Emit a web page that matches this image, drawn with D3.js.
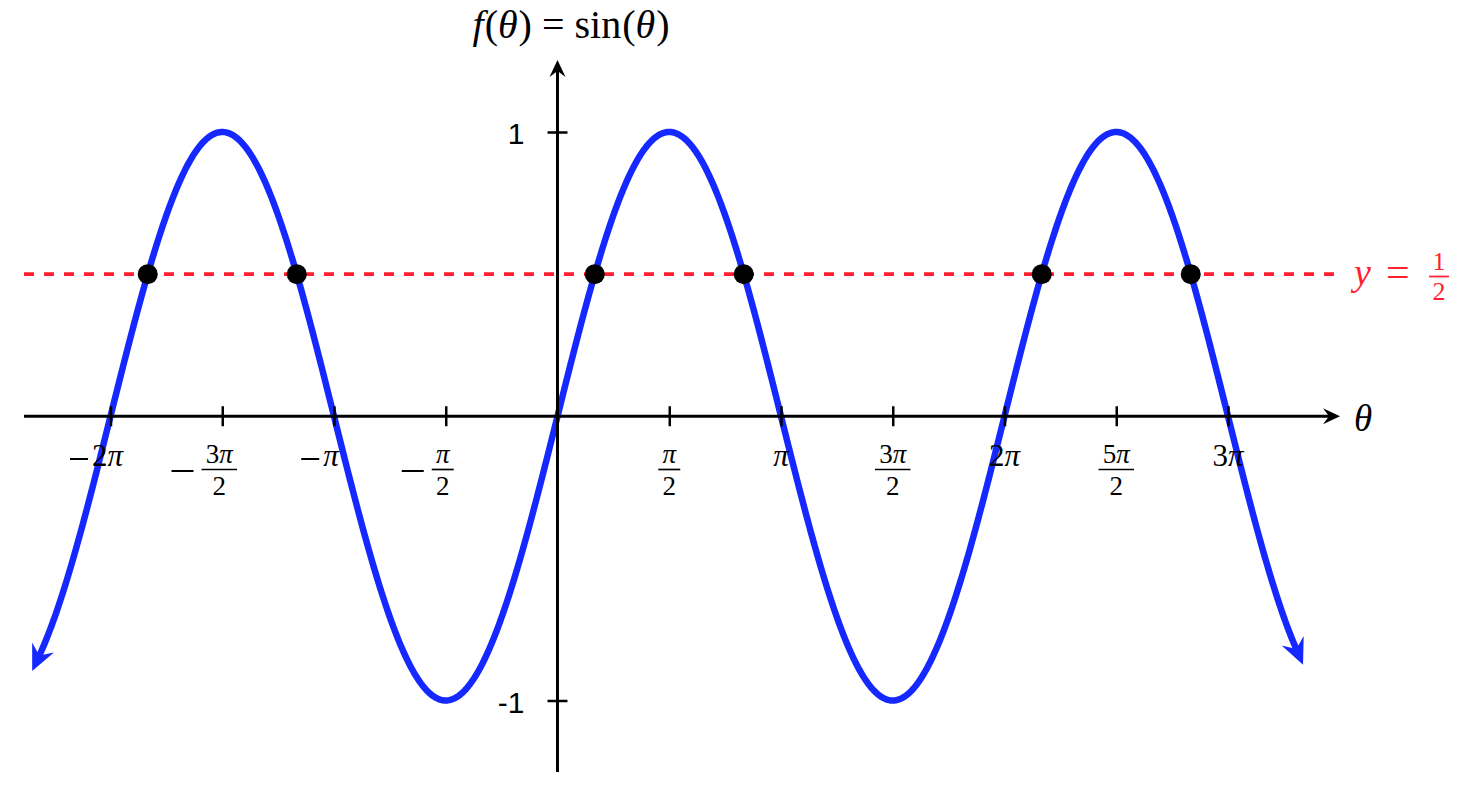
<!DOCTYPE html>
<html><head><meta charset="utf-8">
<script src="https://cdn.jsdelivr.net/npm/d3@7"></script>
<style>body{margin:0;background:#fff} svg{display:block}</style>
</head><body>
<svg id="chart" width="1458" height="794"></svg>
<script>
// ---- data ----
const xTickValues = [-4, -3, -2, -1, 1, 2, 3, 4, 5, 6];          // multiples of π/2
const xTickLabels = ["−2π", "−3π/2", "−π", "−π/2", "π/2", "π", "3π/2", "2π", "5π/2", "3π"];
const yTickValues = [1, -1];
const yTickLabels = ["1", "-1"];
const curveDomain = [-7.29, 10.39];                               // θ range of the drawn curve (radians)
const refLevel = 0.5;                                             // y = 1/2
const refLabelParts = ["y", "=", "1", "2"];
const intersectionMultiples = [-11/6, -7/6, 1/6, 5/6, 13/6, 17/6]; // θ/π where sin θ = 1/2
const axisLabelX = "θ";
const titleParts = [["f","i",0],["(","",1],["θ","i",0],[")","",1],["=","",10],["sin","",10],["(","",1],["θ","i",0],[")","",1]];

// ---- setup ----
const svg = d3.select("#chart");
const serif = "'Liberation Serif', 'DejaVu Serif', serif";
const sans = "'Liberation Sans', Arial, sans-serif";
const BLUE = "#1428ff", RED = "#ff1f2f";

const x = d3.scaleLinear().domain([-2 * Math.PI, 3 * Math.PI]).range([110.5, 1228]);
const y = d3.scaleLinear().domain([-1, 1]).range([700.5, 132]);
const x0 = x(0), y0 = y(0);

const defs = svg.append("defs");
// blue stealth arrow for curve ends
defs.append("marker").attr("id", "blueArrow")
  .attr("markerUnits", "userSpaceOnUse").attr("viewBox", "-28 -14 30 28")
  .attr("markerWidth", 30).attr("markerHeight", 28)
  .attr("refX", -16).attr("refY", 0).attr("orient", "auto-start-reverse")
  .append("path").attr("d", "M0,0 L-26,-12 L-17,0 L-26,12 Z").attr("fill", BLUE);
// black arrow for axes
defs.append("marker").attr("id", "blackArrow")
  .attr("markerUnits", "userSpaceOnUse").attr("viewBox", "-18 -9 20 18")
  .attr("markerWidth", 20).attr("markerHeight", 18)
  .attr("refX", -10).attr("refY", 0).attr("orient", "auto")
  .append("path").attr("d", "M0,0 L-17,-8 L-11,0 L-17,8 Z").attr("fill", "#000");

// ---- sine curve ----
const samples = d3.range(0, 801).map(i => curveDomain[0] + (curveDomain[1] - curveDomain[0]) * i / 800);
const line = d3.line().x(t => x(t)).y(t => y(Math.sin(t))).curve(d3.curveLinear);
svg.append("path").datum(samples).attr("d", line)
  .attr("fill", "none").attr("stroke", BLUE).attr("stroke-width", 6.5)
  .attr("stroke-linejoin", "round")
  .attr("marker-start", "url(#blueArrow)").attr("marker-end", "url(#blueArrow)");

// ---- reference line y = 1/2 ----
svg.append("line").attr("x1", 24).attr("x2", 1340).attr("y1", y(refLevel)).attr("y2", y(refLevel))
  .attr("stroke", RED).attr("stroke-width", 3.8).attr("stroke-dasharray", "10,10");

// ---- axes ----
svg.append("line").attr("x1", 24).attr("x2", 1330).attr("y1", y0).attr("y2", y0)
  .attr("stroke", "#000").attr("stroke-width", 3).attr("marker-end", "url(#blackArrow)");
svg.append("line").attr("x1", x0).attr("x2", x0).attr("y1", 772).attr("y2", 70)
  .attr("stroke", "#000").attr("stroke-width", 3).attr("marker-end", "url(#blackArrow)");

const xAxisG = svg.append("g").attr("transform", `translate(0,${y0})`)
  .call(d3.axisBottom(x).tickValues(xTickValues.map(v => v * Math.PI / 2)).tickSize(10).tickFormat(""));
xAxisG.select(".domain").remove();
xAxisG.selectAll(".tick line").attr("y1", -10).attr("y2", 10).attr("stroke", "#000").attr("stroke-width", 2.5);

const yAxisG = svg.append("g").attr("transform", `translate(${x0},0)`)
  .call(d3.axisLeft(y).tickValues(yTickValues).tickSize(10).tickFormat(""));
yAxisG.select(".domain").remove();
yAxisG.selectAll(".tick line").attr("x1", -10).attr("x2", 10).attr("stroke", "#000").attr("stroke-width", 2.5);

// y tick labels
yTickValues.forEach((v, i) => {
  svg.append("text").attr("x", x0 - 33).attr("y", y(v) + 12)
    .attr("text-anchor", "end").attr("font-family", sans).attr("font-size", 30)
    .attr("fill", "#000").text(yTickLabels[i]);
});

// x tick labels (TeX-like)
function addPiText(g, str, xc, base, size) {
  const t = g.append("text").attr("x", xc).attr("y", base).attr("text-anchor", "middle")
    .attr("font-family", serif).attr("font-size", size).attr("fill", "#000");
  const m = str.match(/^(\d*)(π)$/);
  if (m) {
    if (m[1]) t.append("tspan").text(m[1]);
    t.append("tspan").attr("font-style", "italic").text("π");
  } else t.text(str);
  return t;
}
xTickValues.forEach((v, i) => {
  const lab = xTickLabels[i];
  const neg = lab.startsWith("−");
  const body = neg ? lab.slice(1) : lab;
  const g = svg.append("g");
  const xc = x(v * Math.PI / 2) + (neg ? -3 : 0);
  let leftEdge, minusY, minusW, gap;
  if (body.includes("/")) {
    const [num, den] = body.split("/");
    const nt = addPiText(g, num, xc, 463, 27);
    addPiText(g, den, xc, 495, 27);
    const w = Math.max(nt.node().getBBox().width + 7, 22);
    g.append("line").attr("x1", xc - w / 2).attr("x2", xc + w / 2).attr("y1", 469.5).attr("y2", 469.5)
      .attr("stroke", "#000").attr("stroke-width", 1.7);
    leftEdge = xc - w / 2; minusY = 471; minusW = 22; gap = 8;
  } else {
    const bt = addPiText(g, body, xc, 466, 31);
    const bb = bt.node().getBBox();
    leftEdge = bb.x; minusY = 459; minusW = 18; gap = 4;
  }
  if (neg) {
    g.append("line").attr("x1", leftEdge - gap - minusW).attr("x2", leftEdge - gap)
      .attr("y1", minusY).attr("y2", minusY).attr("stroke", "#000").attr("stroke-width", 2);
  }
});

// ---- intersection dots ----
svg.selectAll("circle.pt").data(intersectionMultiples).join("circle").attr("class", "pt")
  .attr("cx", m => x(m * Math.PI)).attr("cy", y(refLevel)).attr("r", 10).attr("fill", "#000");

// ---- axis label θ ----
svg.append("text").attr("x", 1354).attr("y", 431).attr("font-family", serif).attr("font-size", 37)
  .attr("font-style", "italic").attr("fill", "#000").text(axisLabelX);

// ---- reference label y = 1/2 ----
const rl = svg.append("g").attr("fill", RED).attr("font-family", serif);
rl.append("text").attr("x", 1354).attr("y", 285).attr("font-size", 38).attr("font-style", "italic").text(refLabelParts[0]);
rl.append("text").attr("x", 1386).attr("y", 286).attr("font-size", 42).text(refLabelParts[1]);
rl.append("text").attr("x", 1439).attr("y", 270).attr("font-size", 26).attr("text-anchor", "middle").text(refLabelParts[2]);
rl.append("text").attr("x", 1439).attr("y", 300).attr("font-size", 26).attr("text-anchor", "middle").text(refLabelParts[3]);
rl.append("line").attr("x1", 1429).attr("x2", 1449).attr("y1", 276.5).attr("y2", 276.5).attr("stroke", RED).attr("stroke-width", 1.7);

// ---- title ----
const title = svg.append("text").attr("x", 571).attr("y", 38).attr("text-anchor", "middle")
  .attr("font-family", serif).attr("font-size", 40).attr("fill", "#000");
titleParts.forEach(([s, st, dx]) => {
  const ts = title.append("tspan").text(s).attr("dx", dx);
  if (st === "i") ts.attr("font-style", "italic");
});
</script>
</body></html>
